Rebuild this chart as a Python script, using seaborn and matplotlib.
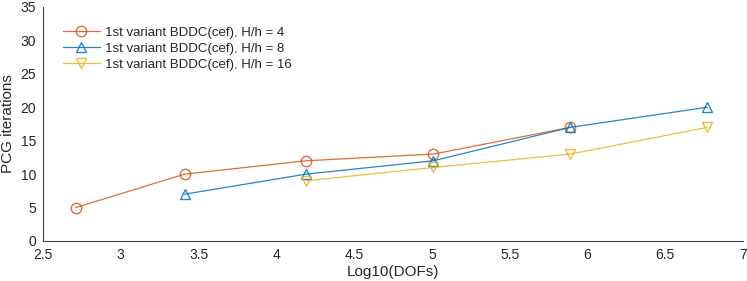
import pandas as pd
import matplotlib.pyplot as plt
import seaborn as sns

# data
dofs_4 = [2.71, 3.41, 4.19, 5.01, 5.89]
iters_4 = [5, 10, 12, 13, 17]
dofs_8 = [3.41, 4.19, 5.01, 5.89, 6.77]
iters_8 = [7, 10, 12, 17, 20]
dofs_16 = [4.19, 5.01, 5.89, 6.77]
iters_16 = [9, 11, 13, 17]
labels = ['1st variant BDDC(cef), H/h = 4',
          '1st variant BDDC(cef), H/h = 8',
          '1st variant BDDC(cef), H/h = 16']
colors = ['#D95319', '#0072BD', '#EDB120']
markers = ['o', '^', 'v']

sns.set_style('white')
plt.rcParams['font.family'] = ['Liberation Sans', 'DejaVu Sans']

fig = plt.figure(figsize=(7.47, 2.81), dpi=100)
ax = fig.add_axes([43 / 747, 40 / 281, 700 / 747, 234 / 281])

series = [(dofs_4, iters_4), (dofs_8, iters_8), (dofs_16, iters_16)]
for (x, y), lab, c, m in zip(series, labels, colors, markers):
    df = pd.DataFrame({'x': x, 'y': y})
    sns.lineplot(data=df, x='x', y='y', ax=ax, color=c, marker=m, label=lab,
                 markersize=7.5, markerfacecolor='none', markeredgecolor=c,
                 markeredgewidth=1.0, linewidth=0.9, alpha=0.85)

ax.set_xlim(2.5, 7)
ax.set_ylim(0, 35)
ax.set_xticks([2.5, 3, 3.5, 4, 4.5, 5, 5.5, 6, 6.5, 7])
ax.set_xticklabels(['2.5', '3', '3.5', '4', '4.5', '5', '5.5', '6', '6.5', '7'])
ax.set_yticks(range(0, 36, 5))
ax.set_xlabel('Log10(DOFs)', fontsize=11, color='#262626', labelpad=2)
ax.set_ylabel('PCG iterations', fontsize=11, color='#262626', labelpad=4)
ax.tick_params(direction='in', length=4, width=0.8, colors='#262626',
               labelsize=10, pad=5)
for side in ['top', 'right']:
    ax.spines[side].set_visible(False)
for side in ['left', 'bottom']:
    ax.spines[side].set_color('#404040')
    ax.spines[side].set_linewidth(0.8)

ax.legend(loc='upper left', bbox_to_anchor=(0.021, 0.94), frameon=False,
          fontsize=9.5, handlelength=2.8, handletextpad=0.35,
          labelspacing=0.3, borderaxespad=0)

fig.savefig('out.png', dpi=100)
